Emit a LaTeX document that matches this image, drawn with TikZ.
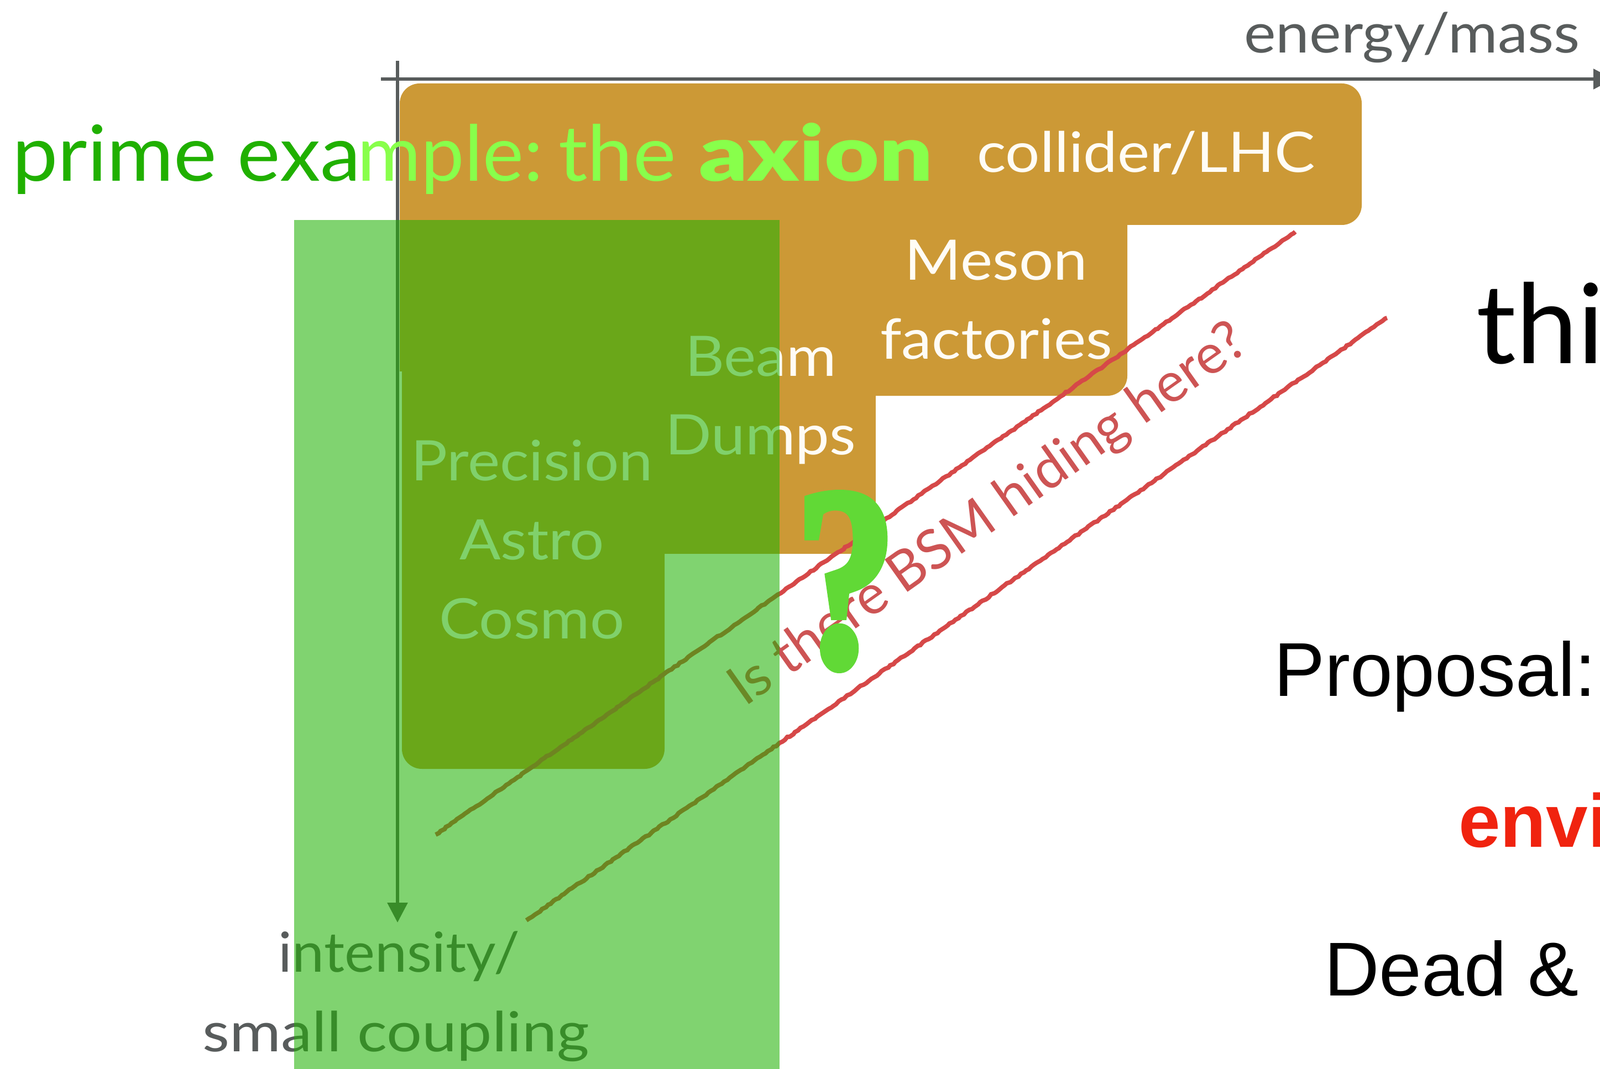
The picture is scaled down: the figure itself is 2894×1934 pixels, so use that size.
\documentclass[tikz,border=0pt]{standalone}
\usepackage{fontspec}
\usepackage{graphicx}
\usetikzlibrary{decorations.pathmorphing,arrows.meta}
\setmainfont{Lato}
\newfontfamily\hel{Liberation Sans}
\newfontfamily\ave[FakeStretch=1.09]{Lato}
\newfontfamily\avenar[FakeStretch=1.04]{Lato}
\newfontfamily\avewide[FakeStretch=1.13]{Lato}
\newfontfamily\gill[FakeStretch=1.05]{Lato}
\newfontfamily\gillblack[FakeStretch=1.22]{Lato Black}
\newfontfamily\qfont[FakeBold=3]{Liberation Serif Bold}
\definecolor{ochre}{RGB}{204,153,54}
\definecolor{axisgray}{RGB}{88,92,92}
\definecolor{greenwash}{RGB}{32,178,4}
\definecolor{redline}{RGB}{214,72,72}
\definecolor{redtext}{RGB}{205,84,84}
\definecolor{primedark}{RGB}{32,176,0}
\definecolor{primelight}{RGB}{136,255,75}
\definecolor{qmark}{RGB}{97,217,54}
\definecolor{envred}{RGB}{240,35,15}
\definecolor{labwhite}{RGB}{255,252,245}
\newcommand{\fs}[1]{\fontsize{#1}{#1}\selectfont}
\tikzset{
 x=1pt,y=-1pt,
 lab/.style={inner sep=0pt,anchor=base,text=labwhite,font=\ave\fs{101}},
 axl/.style={inner sep=0pt,anchor=base west,text=axisgray,font=\ave\fs{100}},
 blk/.style={inner sep=0pt,anchor=base west,text=black,font=\hel\fs{138}},
 redl/.style={draw=redline,line width=8pt,decorate,decoration={random steps,segment length=6pt,amplitude=1.2pt}},
 axisline/.style={draw=axisgray,line width=6pt},
 block/.style={fill=ochre,rounded corners=36pt},
}
\begin{document}
\begin{tikzpicture}
\useasboundingbox (0,0) rectangle (2894,1934);
\clip (0,0) rectangle (2894,1934);
\fill[white] (0,0) rectangle (2894,1934);
% ochre staircase
\path[block] (723,151) rectangle (2463,407);
\path[block] (1100,300) rectangle (2039,716);
\path[block] (727,300) rectangle (1202,1391);
\fill[ochre] (1100,600) rectangle (1584,1002);
\fill[ochre] (723,200) rectangle (760,672);
% axes
\coordinate (ha) at (689,143); \coordinate (hb) at (2918,143);
\coordinate (va) at (719,110); \coordinate (vb) at (719,1669);
\draw[axisline,-{Triangle[length=36pt,width=36pt]}] (ha) -- (hb);
\draw[axisline,-{Triangle[length=36pt,width=36pt]}] (va) -- (vb);
\node[axl] (energy) at (2250,96) {energy/mass};
\node[axl,anchor=base,font=\avenar\fs{100}] (intens) at (722,1758) {intensity/};
\node[axl,anchor=base,font=\avewide\fs{100}] (small) at (716,1902) {small coupling};
% labels
\node[lab] (coll) at (2073,312) {collider/LHC};
\node[lab] (mes) at (1802,506) {Meson};
\node[lab] (fac) at (1802,649) {factories};
\node[lab] (bea) at (1376,680) {Beam};
\node[lab] (dum) at (1376,822) {Dumps};
\node[lab] (pre) at (962,869) {Precision};
\node[lab] (ast) at (962,1012) {Astro};
\node[lab] (cos) at (962,1155) {Cosmo};
% red band
\coordinate (r1a) at (788,1510); \coordinate (r1b) at (2343,419);
\coordinate (r2a) at (952,1665); \coordinate (r2b) at (2509,575);
\draw[redl] (r1a) -- (r1b);
\draw[redl] (r2a) -- (r2b);
\node[inner sep=0pt,anchor=base west,rotate=35.3,text=redtext,font=\fs{100}] (bsm) at (1347,1280) {Is there BSM hiding here?};
% green overlay
\fill[greenwash,fill opacity=.57] (532,398) rectangle (1410,1934);
% top texts
\node[inner sep=0pt,anchor=base west,font=\gill\fs{140}] (prime) at (22,328) {\textcolor{primedark}{prime exa}\textcolor{primelight}{\hspace{-6pt}{\fontspec{Lato}mple:}\hspace{-22pt} the {\gillblack\hspace{4pt}axion}}};
\node[inner sep=0pt,anchor=center,text=qmark,font=\qfont\fs{470}] (qm) at (1530,1052) {\scalebox{.78}[1]{?}};
\node[inner sep=0pt,anchor=base west,text=black,font=\fs{200}] (thi) at (2670,657) {thi};
\node[blk] (prop) at (2304,1259) {Proposal:};
\node[blk,text=envred,font=\hel\bfseries\fs{136}] (env) at (2638,1532) {envi};
\node[blk] (dead) at (2395,1801) {Dead \&};
\end{tikzpicture}
\end{document}
